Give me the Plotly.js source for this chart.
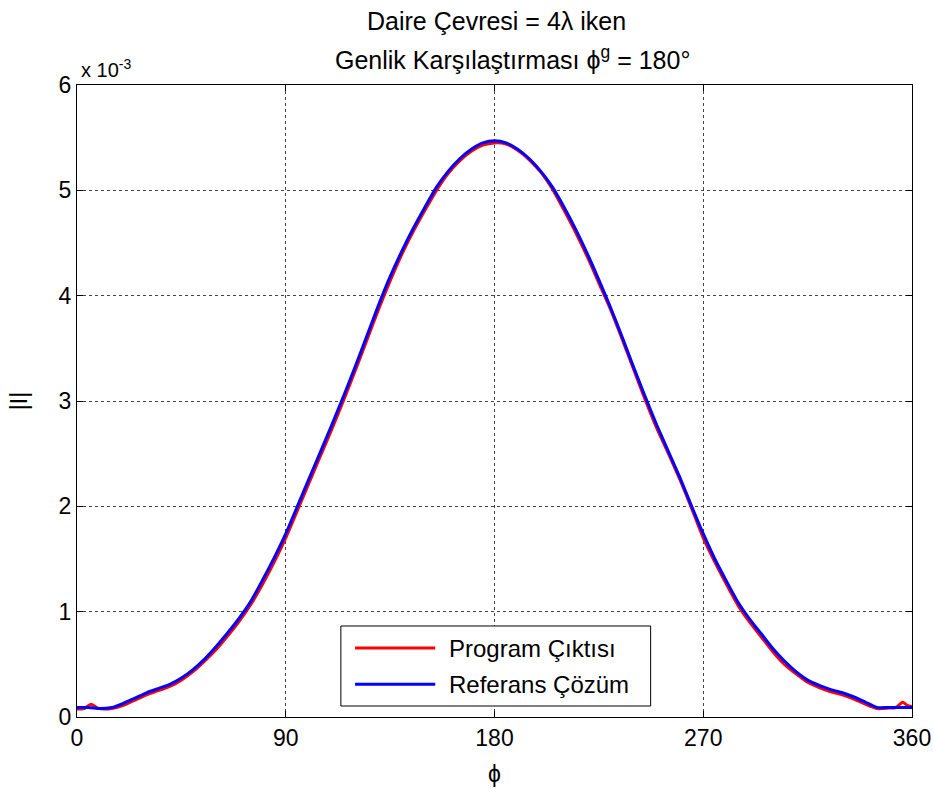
<!DOCTYPE html>
<html>
<head>
<meta charset="utf-8">
<script src="https://cdn.plot.ly/plotly-3.0.1.min.js"></script>
<style>html,body{margin:0;padding:0;background:#fff;}#chart{width:934px;height:789px;}</style>
</head>
<body>
<div id="chart"></div>
<script>
// angles (degrees) and |I| values in units of 1e-3
const blueX = [0,5,10,15,20,25,30,35,40,45,50,55,60,65,70,75,80,85,90,95,100,105,110,115,120,125,130,135,140,145,150,155,160,165,170,175,180,
  185,190,195,200,205,210,215,220,225,230,235,240,245,250,255,260,265,270,275,280,285,290,295,300,305,310,315,320,325,330,335,340,345,350,355,360];
const blueY = [0.09,0.09,0.08,0.09,0.13,0.18,0.23,0.27,0.31,0.37,0.45,0.55,0.67,0.80,0.94,1.10,1.30,1.51,1.74,2.00,2.26,2.52,2.78,3.05,3.33,3.62,3.91,4.18,4.42,4.64,4.84,5.03,5.18,5.30,5.39,5.45,5.47,
  5.45,5.39,5.30,5.18,5.03,4.84,4.63,4.40,4.15,3.89,3.61,3.32,3.04,2.77,2.52,2.27,2.00,1.74,1.50,1.29,1.09,0.93,0.79,0.65,0.53,0.43,0.35,0.30,0.26,0.23,0.19,0.14,0.09,0.09,0.09,0.09];
const redX = [0,3,6,9,12,15,20,25,30,35,40,45,50,55,60,65,70,75,80,85,90,95,100,105,110,115,120,125,130,135,140,145,150,155,160,165,170,175,180,
  185,190,195,200,205,210,215,220,225,230,235,240,245,250,255,260,265,270,275,280,285,290,295,300,305,310,315,320,325,330,335,340,345,350,353,356,358,360];
const redY = [0.075,0.08,0.12,0.085,0.075,0.08,0.11,0.16,0.21,0.25,0.29,0.35,0.43,0.53,0.64,0.77,0.91,1.07,1.26,1.47,1.70,1.96,2.22,2.48,2.74,3.01,3.29,3.58,3.87,4.14,4.39,4.61,4.81,5.00,5.16,5.28,5.37,5.43,5.45,
  5.44,5.38,5.29,5.17,5.01,4.81,4.60,4.37,4.12,3.87,3.59,3.30,3.01,2.74,2.50,2.25,1.98,1.70,1.47,1.26,1.06,0.90,0.76,0.62,0.50,0.41,0.33,0.28,0.24,0.21,0.17,0.12,0.08,0.085,0.09,0.14,0.11,0.10];
const xTicks = [0,90,180,270,360];
const yTicks = [0,1,2,3,4,5,6];
const seriesNames = ['Program Çıktısı','Referans Çözüm'];
const seriesColors = ['#ff0000','#0000ff'];
const titleLines = ['Daire Çevresi = 4λ iken', 'Genlik Karşılaştırması ϕ<sup>g</sup> = 180°'];

const FONT = 'Liberation Sans, Arial, sans-serif';
const traces = [
  {x: redX, y: redY, name: seriesNames[0], mode: 'lines', showlegend: false, line: {color: seriesColors[0], width: 3, shape: 'spline', smoothing: 0.6}},
  {x: blueX, y: blueY, name: seriesNames[1], mode: 'lines', showlegend: false, line: {color: seriesColors[1], width: 3, shape: 'spline', smoothing: 0.6}}
];
const axisCommon = {
  showline: true, linecolor: '#000', linewidth: 1, mirror: 'ticks',
  ticks: 'inside', ticklen: 6, tickcolor: '#000', tickwidth: 1,
  showgrid: true, gridcolor: '#444', griddash: 'dot', gridwidth: 1,
  zeroline: false, tickfont: {family: FONT, size: 23, color: '#000'}
};

// legend box (drawn manually to mimic MATLAB legend)
const lg = {x0: 0.316, x1: 0.687, y0: 0.0174, y1: 0.144, lx0: 0.333, lx1: 0.429, tx: 0.443, rows: [0.109, 0.052]};
const shapes = [
  {type: 'rect', xref: 'paper', yref: 'paper', x0: lg.x0, x1: lg.x1, y0: lg.y0, y1: lg.y1, line: {color: '#000', width: 1}, fillcolor: '#fff', layer: 'above'}
];
const annotations = [
  {text: 'x 10<sup>-3</sup>', xref: 'paper', yref: 'paper', x: 0, y: 1, xanchor: 'left', yanchor: 'bottom', yshift: 2, xshift: 2,
   showarrow: false, font: {family: FONT, size: 20, color: '#000'}},
  {text: titleLines[0], xref: 'paper', yref: 'paper', x: 0.502, y: 1.101, xanchor: 'center', yanchor: 'middle', showarrow: false,
   font: {family: FONT, size: 25, color: '#000'}},
  {text: titleLines[1], xref: 'paper', yref: 'paper', x: 0.521, y: 1.043, xanchor: 'center', yanchor: 'middle', showarrow: false,
   font: {family: FONT, size: 25, color: '#000'}}
];
seriesNames.forEach((nm, i) => {
  shapes.push({type: 'line', xref: 'paper', yref: 'paper', x0: lg.lx0, x1: lg.lx1, y0: lg.rows[i], y1: lg.rows[i],
               line: {color: seriesColors[i], width: 3}, layer: 'above'});
  annotations.push({text: nm, xref: 'paper', yref: 'paper', x: lg.tx, y: lg.rows[i], xanchor: 'left', yanchor: 'middle',
                    showarrow: false, font: {family: FONT, size: 24, color: '#000'}});
});

const layout = {
  width: 934, height: 789,
  margin: {l: 77, r: 22, t: 85, b: 72},
  paper_bgcolor: '#fff', plot_bgcolor: '#fff',
  font: {family: FONT, size: 22, color: '#000'},
  xaxis: Object.assign({}, axisCommon, {range: [0, 360], tickvals: xTicks, ticktext: xTicks.map(String),
          title: {text: 'ϕ', font: {family: FONT, size: 23}, standoff: 16}}),
  yaxis: Object.assign({}, axisCommon, {range: [0, 6], tickvals: yTicks, ticktext: yTicks.map(String),
          title: {text: '|I|', font: {family: FONT, size: 23}, standoff: 24}}),
  showlegend: false,
  shapes: shapes,
  annotations: annotations
};
Plotly.newPlot('chart', traces, layout, {displayModeBar: false, staticPlot: true});
</script>
</body>
</html>
